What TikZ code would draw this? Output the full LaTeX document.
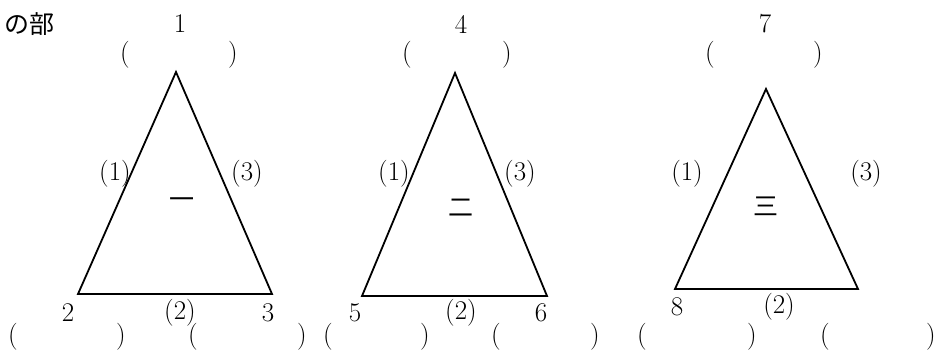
\documentclass[tikz,border=0pt]{standalone}
\usepackage{fontspec}
\newfontfamily\cjk{Noto Sans CJK JP}
\begin{document}
\begin{tikzpicture}[x=1pt,y=-1pt,
  lbl/.style={inner sep=0pt,font=\fontsize{27}{32}\selectfont},
  jlbl/.style={inner sep=0pt,font=\fontsize{25}{30}\selectfont\cjk},
  tri/.style={line width=1.8pt,line join=miter}]
\useasboundingbox (0,0) rectangle (938,353);
% title
\node[jlbl,anchor=west] (title) at (4,24) {の部};
% triangle 1
\coordinate (a1) at (176,72);
\coordinate (b1) at (78,294);
\coordinate (c1) at (272,294);
\draw[tri] (a1) -- (b1) -- (c1) -- cycle;
% triangle 2
\coordinate (a2) at (455,73);
\coordinate (b2) at (362,296);
\coordinate (c2) at (547,296);
\draw[tri] (a2) -- (b2) -- (c2) -- cycle;
% triangle 3
\coordinate (a3) at (766,89);
\coordinate (b3) at (675,289);
\coordinate (c3) at (858,289);
\draw[tri] (a3) -- (b3) -- (c3) -- cycle;
% top labels
\node[lbl] (n1) at (180,24) {1};
\node[lbl] (p1l) at (125,55) {(};
\node[lbl] (p1r) at (233,55) {)};
\node[lbl] (n4) at (461,24) {4};
\node[lbl] (p4l) at (407,55) {(};
\node[lbl] (p4r) at (507,55) {)};
\node[lbl] (n7) at (765,24) {7};
\node[lbl] (p7l) at (710,55) {(};
\node[lbl] (p7r) at (818,55) {)};
% side labels
\node[lbl] (s11) at (115,174) {(1)};
\node[lbl] (s13) at (247,174) {(3)};
\node[jlbl] (k1) at (182,203) {一};
\node[lbl] (s21) at (394,174) {(1)};
\node[lbl] (s23) at (520,174) {(3)};
\node[jlbl] (k2) at (461,208) {二};
\node[lbl] (s31) at (687,174) {(1)};
\node[lbl] (s33) at (866,174) {(3)};
\node[jlbl] (k3) at (766,206) {三};
% bottom labels
\node[lbl] (n2) at (68,313) {2};
\node[lbl] (s12) at (180,313) {(2)};
\node[lbl] (n3) at (268,313) {3};
\node[lbl] (n5) at (355,313) {5};
\node[lbl] (s22) at (461,313) {(2)};
\node[lbl] (n6) at (541,313) {6};
\node[lbl] (n8) at (677,307) {8};
\node[lbl] (s32) at (779,307) {(2)};
% bottom parens
\node[lbl] (q1) at (13,337) {(};
\node[lbl] (q2) at (121,337) {)};
\node[lbl] (q3) at (193,337) {(};
\node[lbl] (q4) at (302,337) {)};
\node[lbl] (q5) at (328,337) {(};
\node[lbl] (q6) at (425,337) {)};
\node[lbl] (q7) at (496,337) {(};
\node[lbl] (q8) at (595,337) {)};
\node[lbl] (q9) at (642,337) {(};
\node[lbl] (q10) at (752,337) {)};
\node[lbl] (q11) at (825,337) {(};
\node[lbl] (q12) at (931,337) {)};
\end{tikzpicture}
\end{document}
